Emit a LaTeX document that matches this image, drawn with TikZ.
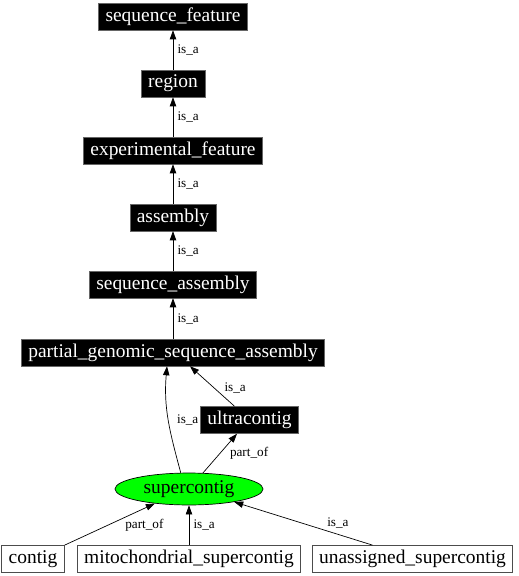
\documentclass[tikz,border=0pt]{standalone}
\usepackage{fontspec}
\setmainfont{Liberation Serif}
\usetikzlibrary{positioning,arrows.meta,calc,shapes.geometric}

\begin{document}
\begin{tikzpicture}[
  x=0.72pt, y=-0.72pt,
  term/.style={fill=black, draw=black!60, line width=0.4pt, text=white, font=\fontsize{14}{16}\selectfont, inner xsep=5pt, inner ysep=0pt, minimum height=19.4pt},
  plain/.style={fill=white, draw=black!70, line width=0.6pt, font=\fontsize{14}{16}\selectfont, inner xsep=5pt, inner ysep=0pt, minimum height=19.4pt},
  focus/.style={ellipse, fill=green, draw=black, line width=0.5pt, font=\fontsize{14}{16}\selectfont, inner sep=0pt, minimum width=106.6pt, minimum height=23pt},
  lbl/.style={font=\fontsize{9.5}{11}\selectfont, inner sep=1pt},
  arr/.style={-{Triangle[length=6.5pt,width=4.6pt]}, line width=0.5pt}
]
\useasboundingbox (0,0) rectangle (519,576);

% ---------- is_a chain ----------
\node[term] (seqfeat)  at (173,16.5) {sequence\_feature};
\node[term] (region)   at (173,83.5) {region};
\node[term] (expfeat)  at (173,150.5) {experimental\_feature};
\node[term] (assembly) at (173,217.5) {assembly};
\node[term] (seqasm)   at (173,284.5) {sequence\_assembly};
\node[term] (pgsa)     at (173,352.5) {partial\_genomic\_sequence\_assembly};

\draw[arr] (region)   -- node[lbl, right=2pt] {is\_a} (seqfeat);
\draw[arr] (expfeat)  -- node[lbl, right=2pt] {is\_a} (region);
\draw[arr] (assembly) -- node[lbl, right=2pt] {is\_a} (expfeat);
\draw[arr] (seqasm)   -- node[lbl, right=2pt] {is\_a} (assembly);
\draw[arr] (pgsa)     -- node[lbl, right=2pt] {is\_a} (seqasm);

% ---------- supercontig and friends ----------
\node[term]  (ultracontig) at (249.5,420) {ultracontig};
\node[focus] (supercontig) at (189,489) {supercontig};

\node[plain] (contig)     at (33,559)    {contig};
\node[plain] (mitosc)     at (189,559)   {mitochondrial\_supercontig};
\node[plain] (unassigned) at (412.5,559) {unassigned\_supercontig};

\draw[arr] (supercontig.117) to[out=105, in=-95]
  node[lbl, pos=0.5, right=5pt] {is\_a} ($(pgsa.south)+(-6,0)$);
\draw[arr] ($(ultracontig.north)+(-15,0)$) --
  node[lbl, pos=0.45, right=6pt] {is\_a} ($(pgsa.south)+(17,0)$);
\draw[arr] (supercontig.49) --
  node[lbl, pos=0.5, right=6pt] {part\_of} ($(ultracontig.south)+(-12.5,0)$);

% ---------- leaves -> supercontig ----------
\draw[arr] (contig.north east) --
  node[lbl, pos=0.5, right=10pt, yshift=-1pt] {part\_of} (supercontig.203);
\draw[arr] (mitosc) -- node[lbl, right=2pt] {is\_a} (supercontig);
\draw[arr] ($(unassigned.north)+(-40,0)$) --
  node[lbl, pos=0.25, above=3pt] {is\_a} (supercontig.-16);

\end{tikzpicture}
\end{document}
